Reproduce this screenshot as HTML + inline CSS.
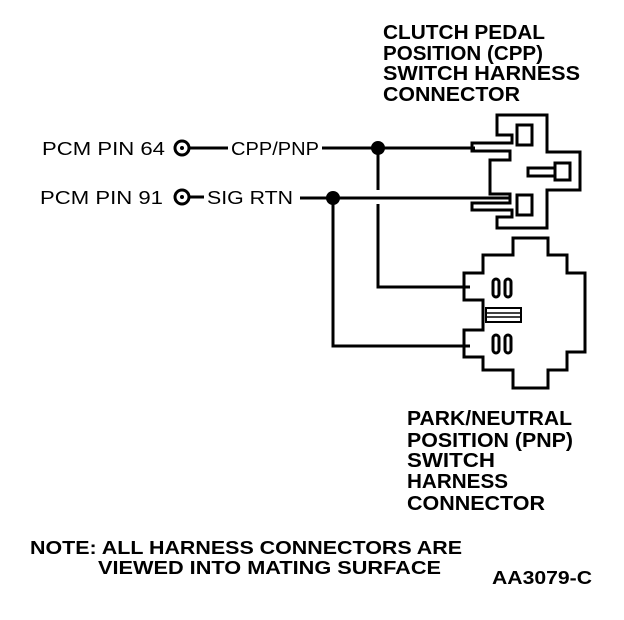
<!DOCTYPE html>
<html><head><style>
body{margin:0;background:#fff;width:624px;height:620px;overflow:hidden}
svg{display:block}
text{font-family:"Liberation Sans",sans-serif;fill:#000}
.b{font-weight:bold;font-size:20px}
.n{font-size:18px}
</style></head><body>
<svg width="624" height="620" viewBox="0 0 624 620">
<g class="b">
<text x="383" y="39" textLength="162" lengthAdjust="spacingAndGlyphs">CLUTCH PEDAL</text>
<text x="383" y="60" textLength="160" lengthAdjust="spacingAndGlyphs">POSITION (CPP)</text>
<text x="383" y="80" textLength="197" lengthAdjust="spacingAndGlyphs">SWITCH HARNESS</text>
<text x="383" y="101" textLength="137" lengthAdjust="spacingAndGlyphs">CONNECTOR</text>
<text x="407" y="425" textLength="165" lengthAdjust="spacingAndGlyphs">PARK/NEUTRAL</text>
<text x="407" y="447" textLength="166" lengthAdjust="spacingAndGlyphs">POSITION (PNP)</text>
<text x="407" y="467" textLength="88" lengthAdjust="spacingAndGlyphs">SWITCH</text>
<text x="407" y="488" textLength="101" lengthAdjust="spacingAndGlyphs">HARNESS</text>
<text x="407" y="510" textLength="138" lengthAdjust="spacingAndGlyphs">CONNECTOR</text>
<text x="30" y="554" font-size="18" textLength="432" lengthAdjust="spacingAndGlyphs">NOTE: ALL HARNESS CONNECTORS ARE</text>
<text x="98" y="574" font-size="18" textLength="343" lengthAdjust="spacingAndGlyphs">VIEWED INTO MATING SURFACE</text>
<text x="492" y="584" font-size="18" textLength="100" lengthAdjust="spacingAndGlyphs">AA3079-C</text>
</g>
<g class="n">
<text x="42" y="155" textLength="123" lengthAdjust="spacingAndGlyphs">PCM PIN 64</text>
<text x="40" y="204" textLength="123" lengthAdjust="spacingAndGlyphs">PCM PIN 91</text>
<text x="231" y="155" textLength="88" lengthAdjust="spacingAndGlyphs">CPP/PNP</text>
<text x="207" y="204" textLength="86" lengthAdjust="spacingAndGlyphs">SIG RTN</text>
</g>
<g fill="none" stroke="#000" stroke-width="3">
<circle cx="182" cy="148" r="7"/>
<circle cx="182" cy="197" r="7"/>
<line x1="189" y1="148" x2="228" y2="148"/>
<line x1="189" y1="197" x2="204" y2="197"/>
<line x1="322" y1="148" x2="475" y2="148"/>
<line x1="300" y1="198" x2="510" y2="198"/>
<polyline points="378,148 378,190"/>
<polyline points="378,204 378,287 470,287"/>
<polyline points="333,198 333,346 470,346"/>
<path d="M497,115 H547 V152 H580 V190 H547 V228 H497 V217 H512 V210 H472 V203 H510 V194 H490 V160 H510 V151 H472 V143 H512 V135 H497 Z"/>
<rect x="517" y="125" width="15" height="20"/>
<rect x="517" y="195" width="15" height="20"/>
<path d="M555,163 H570 V180 H555 Z M555,168 H528 V176 H555"/>
<path d="M513,238 H548 V255 H567 V273 H585 V352 H567 V370 H548 V388 H513 V370 H483 V357 H464 V330 H483 V300 H464 V273 H483 V255 H513 Z"/>
<rect x="493" y="279" width="6" height="18" rx="3"/>
<rect x="505" y="279" width="6" height="18" rx="3"/>
<rect x="493" y="335" width="6" height="18" rx="3"/>
<rect x="505" y="335" width="6" height="18" rx="3"/>
<rect x="486" y="308" width="35" height="14" stroke-width="2"/>
<line x1="486" y1="313" x2="521" y2="313" stroke-width="1.5"/>
<line x1="486" y1="317" x2="521" y2="317" stroke-width="1.5"/>
</g>
<circle cx="182" cy="148" r="2" fill="#000"/>
<circle cx="182" cy="197" r="2" fill="#000"/>
<circle cx="378" cy="148" r="7" fill="#000"/>
<circle cx="333" cy="198" r="7" fill="#000"/>
</svg>
</body></html>
